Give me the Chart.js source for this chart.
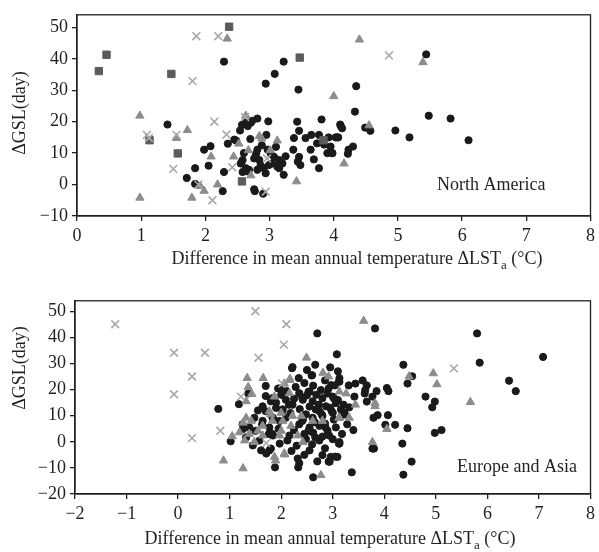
<!DOCTYPE html>
<html>
<head>
<meta charset="utf-8">
<script src="https://cdn.jsdelivr.net/npm/chart.js@4.4.1/dist/chart.umd.min.js"></script>
<style>
    html, body { margin: 0; padding: 0; background: #fff; }
    body { width: 599px; height: 552px; position: relative; overflow: hidden; }
    .panel { position: absolute; left: 0; width: 599px; }
    #top { top: 0; height: 275px; }
    #bottom { top: 286px; height: 266px; }
</style>
</head>
<body>
<div class="panel" id="top"><canvas id="naChart"></canvas></div>
<div class="panel" id="bottom"><canvas id="euChart"></canvas></div>
<script>
// North America: [ΔLSTa, ΔGSL]
const naCircles = [
    [2.29, 39.1], [3.22, 39.1], [3.08, 35.2], [2.94, 32.1], [3.45, 30.2], [1.41, 19.1], [1.71, 2.1],
    [1.84, 5.2], [1.84, 0.2], [1.98, 11.1], [2.08, 12.2], [2.05, 6.0], [2.27, -2.1], [2.29, 4.0],
    [2.35, 13.0], [2.45, 14.3], [2.54, 17.2], [2.57, 19.0], [2.62, 19.8], [2.73, 20.3], [2.81, 21.0],
    [2.98, 20.1], [2.95, 15.8], [2.56, 7.0], [2.58, 4.0], [2.65, 4.2], [2.77, -2.1], [2.90, -2.9],
    [2.71, 19.7], [2.66, 18.6], [3.43, 20.0], [3.81, 20.7], [4.11, 18.6], [3.46, 17.1], [3.56, 14.8],
    [3.65, 15.8], [3.77, 15.8], [3.74, 13.1], [3.85, 12.7], [3.95, 12.1], [4.05, 15.0], [3.64, 11.1],
    [3.90, 10.0], [3.98, 10.0], [3.69, 8.0], [3.77, 5.2], [3.38, 14.8], [3.37, 11.1], [3.46, 8.8],
    [3.48, 6.2], [3.22, 3.1], [3.15, 5.2], [3.20, 6.7], [3.15, 7.8], [3.07, 8.8], [3.02, 9.8],
    [2.97, 11.1], [2.81, 11.1], [2.79, 9.8], [2.76, 8.3], [2.84, 7.8], [2.86, 6.2], [2.81, 4.7],
    [2.91, 5.2], [2.94, 3.6], [2.99, 6.2], [3.04, 6.7], [3.12, 5.7], [2.68, 4.7], [2.63, 5.2],
    [2.55, 6.7], [2.58, 7.8], [2.48, 14.0], [2.76, -1.5], [3.44, 7.3], [2.70, 14.5], [2.88, 12.5],
    [3.10, 12.0], [2.60, 10.0], [3.25, 9.0],
    [5.44, 41.4], [4.35, 31.3], [4.33, 23.2], [5.48, 21.9], [5.82, 21.0], [4.10, 19.1], [4.13, 17.9],
    [4.49, 18.1], [4.57, 17.1], [4.96, 17.2], [5.18, 15.0], [6.10, 14.1], [3.92, 15.0], [4.03, 15.0],
    [4.07, 15.0], [3.97, 10.0], [4.23, 11.1], [4.30, 12.1], [4.22, 9.8]
];
const naTriangles = [
    [2.34, 46.4], [0.98, 21.9], [0.98, -4.2], [1.72, 17.3], [1.55, 14.8], [2.09, 8.9], [1.79, -4.2],
    [1.92, -0.5], [1.98, -2.0], [2.19, 0.0], [2.44, 8.9], [2.52, 13.0], [2.63, 21.9], [2.67, 10.9],
    [2.71, 2.9], [2.84, 15.4], [2.88, 14.6], [3.01, 10.9], [3.12, 14.0], [3.42, 1.0], [4.00, 28.1],
    [4.40, 46.1], [5.39, 38.9], [4.55, 18.8], [4.16, 6.7]
];
const naSquares = [
    [0.34, 36.1], [0.46, 41.3], [1.47, 35.2], [2.37, 50.2], [3.47, 40.4], [1.13, 14.1], [1.57, 9.9],
    [2.57, 1.0], [3.84, 14.1]
];
const naCrosses = [
    [1.86, 47.2], [2.20, 47.2], [1.80, 32.9], [1.09, 15.8], [1.12, 14.8], [1.55, 15.8], [2.14, 20.0],
    [2.33, 15.9], [1.50, 5.0], [1.89, 0.0], [2.11, -5.0], [2.42, 5.5], [2.96, 8.3], [2.94, -2.3],
    [4.86, 41.1], [2.62, 21.5]
];

// Europe and Asia
const euCircles = [
    [2.70, 41.5], [0.78, 12.6], [1.02, 0.2], [1.18, 14.4], [1.36, 18.5], [1.70, 21.4], [1.94, 20.4],
    [2.21, 28.2], [2.66, 29.5], [2.59, 25.4], [2.34, 24.4], [1.88, -9.8], [2.33, -9.8], [2.62, -13.6],
    [2.94, -7.6], [3.08, 33.5], [1.80, 15.5], [1.26, 4.9], [1.45, -1.4], [1.58, 0.5], [1.61, -3.3],
    [1.71, -4.5], [1.80, -2.6], [1.32, 1.7], [1.48, 9.2], [1.64, 8.0], [1.77, 5.5], [1.83, 3.0],
    [1.64, 13.6], [1.70, 11.7], [1.83, 16.7], [2.35, 18.6], [2.55, 19.2], [2.77, 19.8], [2.97, 21.7],
    [3.13, 23.0], [2.42, 16.1], [2.61, 15.5], [2.80, 16.7], [3.00, 17.3], [2.09, 16.1], [2.22, 14.2],
    [1.90, 13.0], [2.03, 12.4], [2.67, 12.4], [2.87, 13.6], [3.06, 14.8], [2.48, 10.5], [2.61, 9.2],
    [2.80, 9.9], [3.00, 11.1], [3.16, 12.4], [2.09, 9.2], [1.97, 8.0], [1.84, 9.2], [2.35, 6.7],
    [2.55, 5.5], [2.74, 6.1], [2.90, 4.2], [3.06, 5.5], [2.16, 2.4], [2.48, 1.1], [2.74, 0.5],
    [2.93, 2.4], [1.84, 2.4], [1.97, -0.7], [1.77, -3.3], [2.55, -3.3], [2.32, -6.4], [2.35, -8.2],
    [2.80, -5.1], [3.13, -0.7], [2.96, -5.8], [3.09, -5.8], [2.41, 16.7], [2.53, 19.2], [2.73, 14.2],
    [2.79, 10.4], [2.41, 8.0], [2.53, 4.2], [2.66, 1.7], [2.86, 5.5], [2.98, 11.7], [3.02, 16.7],
    [2.92, 20.4], [2.15, 14.2], [2.02, 11.7], [1.83, 9.2], [1.63, 6.7], [1.76, 3.0], [1.50, 4.2],
    [1.38, 5.5], [1.25, 6.7], [1.97, 20.4], [2.22, 28.6], [2.60, 25.5],
    [2.10, 19.5], [2.28, 21.0], [2.45, 22.5], [2.62, 21.5], [2.85, 23.5], [2.50, 17.8], [2.68, 18.0],
    [2.90, 18.5], [2.25, 16.5], [2.36, 12.5], [2.55, 13.5], [2.75, 11.5], [2.95, 13.0], [3.10, 16.0],
    [2.18, 11.0], [2.42, 8.5], [2.65, 7.5], [2.85, 7.0], [3.02, 8.5], [2.25, 4.5], [2.45, 3.0],
    [2.62, 3.5], [2.80, 2.0], [3.00, 1.0], [2.12, 0.5], [2.30, -1.5], [2.60, -1.0], [2.85, -2.5],
    [2.45, -5.0], [2.70, -7.5], [1.95, 5.0], [1.90, 15.0], [2.00, 18.0], [1.55, 12.0], [1.70, 17.5],
    [2.20, -3.5], [3.18, 3.0], [3.10, 27.0], [2.95, 28.5], [2.50, 27.5],
    [3.82, 43.4], [5.80, 41.5], [7.08, 32.5], [5.85, 30.3], [4.37, 29.5], [4.54, 25.1], [4.45, 22.3],
    [6.42, 23.4], [6.55, 19.4], [4.80, 17.3], [4.98, 15.4], [4.93, 13.2], [5.11, 4.5], [4.98, 3.4],
    [4.45, 5.2], [4.35, -0.7], [4.53, -7.6], [4.37, -12.6], [3.37, -11.7], [4.21, 6.5], [4.07, 10.2],
    [4.02, 6.5], [3.77, -2.6], [3.80, -2.6], [3.79, 9.2], [3.87, 10.2], [3.85, 19.4], [3.77, 17.3],
    [3.66, 15.4], [4.05, 20.6], [4.08, 19.4], [3.58, 23.5], [3.66, 21.6], [3.63, 19.8], [3.62, 18.5],
    [3.44, 22.3], [3.31, 21.6], [3.42, 17.3], [3.13, 24.4], [3.12, 23.1], [3.04, 21.6], [3.21, 14.2],
    [3.23, 11.1], [3.32, 13.2], [3.21, 10.4], [3.28, 6.7], [3.40, 4.5], [3.13, -0.1], [3.12, -0.7],
    [3.05, -5.7], [2.92, -7.6]
];
const euTriangles = [
    [0.88, -7.2], [1.26, -10.2], [1.05, 2.1], [1.34, 24.4], [1.36, 21.0], [1.43, 18.3], [1.65, 24.4],
    [1.89, -7.2], [2.07, -4.9], [2.17, 24.1], [2.49, 32.2], [2.81, 26.4], [2.92, 25.0], [2.77, -12.8],
    [1.32, 15.5], [1.32, 9.2], [1.42, 8.0], [1.26, 7.3], [1.19, 3.6], [1.38, 3.0], [1.55, 4.2],
    [1.64, 6.1], [1.29, 0.5], [1.48, -0.1], [1.64, 2.4], [1.80, 10.5], [1.83, 8.0], [2.16, 23.6],
    [2.06, 22.3], [1.87, 17.3], [2.16, 18.6], [1.77, 11.7], [2.00, 11.1], [2.22, 9.9], [2.39, 9.9],
    [2.03, 8.0], [2.19, 6.1], [2.00, 4.2], [2.61, 8.0], [2.80, 8.0], [3.13, 9.2], [2.32, 2.4],
    [1.97, 2.4], [2.42, -0.1], [2.06, -4.5], [1.87, -5.8], [3.60, 46.3], [4.95, 26.2], [4.48, 25.0],
    [5.02, 22.0], [5.67, 15.2], [4.05, 4.9], [3.82, 14.8], [3.82, 13.6], [3.77, -0.1], [3.44, 14.2],
    [3.26, 18.5], [3.13, 19.2], [3.12, 9.2], [3.32, 9.2]
];
const euCrosses = [
    [-1.22, 45.0], [1.50, 50.0], [2.10, 45.0], [-0.08, 34.1], [0.52, 34.1], [2.05, 37.2], [1.56, 32.2],
    [0.27, 25.0], [-0.08, 18.2], [0.27, 1.4], [0.82, 4.2], [1.22, 17.3], [2.02, 22.3], [5.35, 28.1],
    [1.71, -0.5]
];

const naXTicks = [0, 1, 2, 3, 4, 5, 6, 7, 8];
const naYTicks = [-10, 0, 10, 20, 30, 40, 50];
const euXTicks = [-2, -1, 0, 1, 2, 3, 4, 5, 6, 7, 8];
const euYTicks = [-20, -10, 0, 10, 20, 30, 40, 50];

const ink = '#231f20';
const serif = '"Liberation Serif", "Times New Roman", serif';

function toPoints(list) {
    return list.map(function (p) { return { x: p[0], y: p[1] }; });
}

function fmt(v) {
    return v < 0 ? '\u2212' + Math.abs(v) : String(v);
}

// box around plot + titles and region label drawn as text
const panelText = {
    id: 'panelText',
    afterDraw: function (chart, args, opts) {
        const ctx = chart.ctx;
        const a = chart.chartArea;
        ctx.save();
        ctx.strokeStyle = ink;
        ctx.lineWidth = 1.3;
        ctx.strokeRect(a.left, a.top, a.right - a.left, a.bottom - a.top);

        ctx.fillStyle = ink;
        ctx.font = '18px ' + serif;
        ctx.textBaseline = 'alphabetic';
        ctx.textAlign = 'left';
        ctx.fillText(opts.region, opts.regionX, opts.regionY);

        // x title with subscript a
        const main = 'Difference in mean annual temperature \u0394LST';
        const tail = ' (\u00b0C)';
        const w1 = ctx.measureText(main).width;
        const w3 = ctx.measureText(tail).width;
        ctx.font = '13px ' + serif;
        const w2 = ctx.measureText('a').width;
        let x = opts.xTitleX - (w1 + w2 + w3) / 2;
        ctx.font = '18px ' + serif;
        ctx.fillText(main, x, opts.xTitleY);
        x += w1;
        ctx.font = '13px ' + serif;
        ctx.fillText('a', x, opts.xTitleY + 5);
        x += w2;
        ctx.font = '18px ' + serif;
        ctx.fillText(tail, x, opts.xTitleY);

        // y title
        ctx.translate(opts.yTitleX, opts.yTitleY);
        ctx.rotate(-Math.PI / 2);
        ctx.textAlign = 'center';
        ctx.textBaseline = 'middle';
        ctx.fillText('\u0394GSL(day)', 0, 0);
        ctx.restore();
    }
};

function axis(min, max, ticks, fitSize, isX) {
    return {
        type: 'linear',
        min: min,
        max: max,
        afterBuildTicks: function (scale) {
            scale.ticks = ticks.map(function (v) { return { value: v }; });
        },
        afterFit: function (scale) {
            if (isX) {
                scale.height = fitSize;
            } else {
                scale.width = fitSize;
            }
        },
        ticks: {
            color: ink,
            font: { family: serif, size: 18 },
            padding: 4,
            maxRotation: 0,
            autoSkip: false,
            callback: fmt
        },
        grid: {
            drawOnChartArea: false,
            drawTicks: true,
            tickLength: 5,
            color: ink,
            lineWidth: 1.3
        },
        border: { display: true, color: ink, width: 1.3 }
    };
}

function createConfig(sets, xMin, xTicks, yMin, yTicks, leftWidth, bottomHeight, text) {
    const styles = [
        { key: 'crosses', pointStyle: 'crossRot', radius: 5.5, color: '#a8a8a8', border: 1.6 },
        { key: 'squares', pointStyle: 'rect', radius: 5.2, color: '#5b5b5b', border: 1 },
        { key: 'triangles', pointStyle: 'triangle', radius: 4.8, color: '#8c8c8c', border: 1 },
        { key: 'circles', pointStyle: 'circle', radius: 3.6, color: '#1a1a1a', border: 1 }
    ];
    const datasets = styles.filter(function (s) { return sets[s.key]; }).map(function (s) {
        return {
            label: s.key,
            data: toPoints(sets[s.key]),
            pointStyle: s.pointStyle,
            pointRadius: s.radius,
            backgroundColor: s.color,
            borderColor: s.color,
            borderWidth: s.border
        };
    });
    return {
        type: 'scatter',
        data: { datasets: datasets },
        plugins: [panelText],
        options: {
            responsive: true,
            maintainAspectRatio: false,
            animation: false,
            devicePixelRatio: 1,
            layout: { padding: { top: 10, right: 7, left: 0, bottom: 0 } },
            plugins: {
                legend: { display: false },
                tooltip: { enabled: false },
                panelText: text
            },
            scales: {
                x: axis(xMin, 8, xTicks, bottomHeight, true),
                y: axis(yMin, 54, yTicks, leftWidth, false)
            }
        }
    };
}

new Chart(document.getElementById('naChart').getContext('2d'), createConfig(
    { circles: naCircles, triangles: naTriangles, squares: naSquares, crosses: naCrosses },
    0, naXTicks, -10, naYTicks, 77, 59,
    { region: 'North America', regionX: 437, regionY: 190, xTitleX: 357, xTitleY: 264, yTitleX: 20, yTitleY: 113 }
));

new Chart(document.getElementById('euChart').getContext('2d'), createConfig(
    { circles: euCircles, triangles: euTriangles, crosses: euCrosses },
    -2, euXTicks, -20, euYTicks, 75, 58,
    { region: 'Europe and Asia', regionX: 457, regionY: 186, xTitleX: 330, xTitleY: 258, yTitleX: 20, yTitleY: 82 }
));
</script>
</body>
</html>
